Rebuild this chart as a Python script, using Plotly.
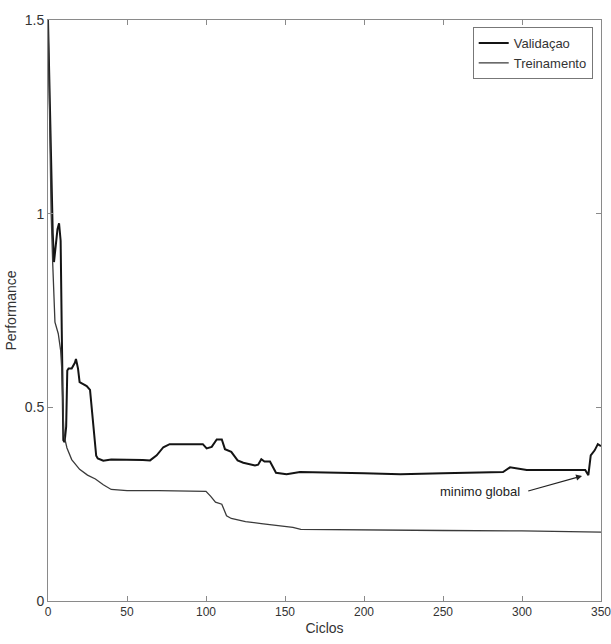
import plotly.graph_objects as go

# Validação curve (ciclos, performance)
val_x = [0, 1, 2, 3, 3.8, 5, 6, 7, 8, 8.7, 9.7, 10.5, 11.5, 12.2, 13, 15, 17, 17.7, 19, 20, 22, 24.5,
         26.6, 28, 29.7, 30.5, 31.5, 35, 40, 50, 60, 64.6, 68.8, 73, 77, 85, 98, 100.4, 103.6, 106.8,
         110, 112, 116, 120, 123.6, 131, 133, 135, 137, 140.5, 142.5, 144.3, 151, 159.5, 200, 223,
         250, 288, 292.4, 296.6, 303, 320, 340, 342, 343.5, 346, 348, 350]
val_y = [1.5, 1.3, 1.1, 0.95, 0.875, 0.93, 0.96, 0.975, 0.93, 0.7, 0.415, 0.41, 0.45, 0.595, 0.60,
         0.60, 0.615, 0.625, 0.60, 0.565, 0.56, 0.555, 0.545, 0.485, 0.415, 0.375, 0.368, 0.362,
         0.365, 0.365, 0.364, 0.363, 0.376, 0.397, 0.405, 0.405, 0.405, 0.394, 0.398, 0.417, 0.417,
         0.392, 0.385, 0.363, 0.357, 0.35, 0.352, 0.366, 0.36, 0.36, 0.346, 0.331, 0.327, 0.333,
         0.33, 0.327, 0.33, 0.333, 0.345, 0.342, 0.338, 0.338, 0.338, 0.325, 0.376, 0.389, 0.405, 0.40]

# Treinamento curve
tr_x = [0, 1, 2, 3, 3.4, 4.4, 6.5, 8, 8.7, 9.5, 10, 12, 15, 20, 25, 30, 35, 40, 50, 70, 90, 100,
        103, 106, 110, 113, 116, 125, 135, 145, 155, 160, 200, 250, 300, 350]
tr_y = [1.5, 1.25, 1.0, 0.87, 0.82, 0.72, 0.69, 0.647, 0.60, 0.48, 0.43, 0.395, 0.365, 0.34, 0.325,
        0.315, 0.30, 0.288, 0.285, 0.285, 0.284, 0.283, 0.27, 0.255, 0.25, 0.22, 0.213, 0.205, 0.2,
        0.195, 0.19, 0.185, 0.183, 0.182, 0.181, 0.178]

x_ticks = [0, 50, 100, 150, 200, 250, 300, 350]
y_ticks = [0, 0.5, 1, 1.5]
y_tick_labels = ["0", "0.5", "1", "1.5"]

annot_text = "minimo global"
annot_tip = (338, 0.323)
annot_tail = (303, 0.283)

FONT = "Liberation Sans, Arial, sans-serif"

fig = go.Figure()
fig.add_trace(go.Scatter(x=val_x, y=val_y, mode="lines", name="Validaçao",
                         line=dict(color="#141414", width=2)))
fig.add_trace(go.Scatter(x=tr_x, y=tr_y, mode="lines", name="Treinamento",
                         line=dict(color="#3a3a3a", width=1.3)))

fig.add_annotation(x=annot_tip[0], y=annot_tip[1], ax=annot_tail[0], ay=annot_tail[1],
                   xref="x", yref="y", axref="x", ayref="y", text="", showarrow=True,
                   arrowhead=2, arrowsize=1, arrowwidth=1.2, arrowcolor="#222")
fig.add_annotation(x=annot_tail[0] - 3, y=annot_tail[1], xref="x", yref="y", text=annot_text,
                   showarrow=False, xanchor="right", yanchor="middle",
                   font=dict(family=FONT, size=13, color="#222"))

axis_common = dict(showline=True, linecolor="#8a8a8a", linewidth=1, mirror="ticks",
                   ticks="inside", ticklen=5, tickcolor="#8a8a8a", showgrid=False,
                   zeroline=False, ticklabeloverflow="allow", automargin=False)

fig.update_layout(
    width=611, height=644,
    margin=dict(l=48, r=10, t=20, b=43),
    paper_bgcolor="white", plot_bgcolor="white",
    font=dict(family=FONT, color="#333"),
    xaxis=dict(range=[0, 350], tickvals=x_ticks, **axis_common,
               tickfont=dict(family=FONT, size=12, color="#333"),
               title=dict(text="Ciclos", font=dict(family=FONT, size=14, color="#333"), standoff=4)),
    yaxis=dict(range=[0, 1.5], tickvals=y_ticks, ticktext=y_tick_labels, **axis_common,
               tickfont=dict(family=FONT, size=14, color="#333"),
               title=dict(text="Performance", font=dict(family=FONT, size=14, color="#333"), standoff=4)),
    legend=dict(x=0.985, y=0.988, xanchor="right", yanchor="top", bgcolor="white",
                bordercolor="#777", borderwidth=1, font=dict(family=FONT, size=13, color="#333"),
                tracegroupgap=0, itemwidth=30),
    showlegend=True,
)

fig.write_html("out.html")
